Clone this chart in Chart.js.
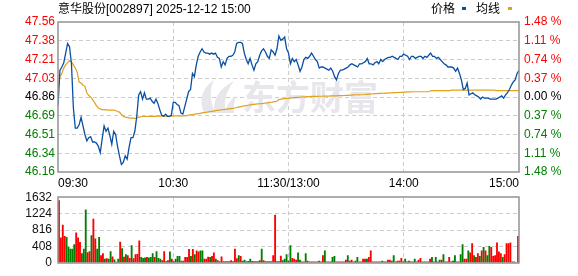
<!DOCTYPE html>
<html><head><meta charset="utf-8">
<script src="https://cdn.jsdelivr.net/npm/chart.js@4"></script>
<style>
html,body{margin:0;padding:0;background:#fff;width:578px;height:276px;overflow:hidden;}
#wrap{position:relative;width:578px;height:276px;}
canvas{position:absolute;left:0;}
#pc{top:0;}
#vc{top:184px;}
.t{position:absolute;font:12px "Liberation Sans","Noto Sans CJK SC",sans-serif;color:#000;white-space:nowrap;line-height:14px;}
.mk{position:absolute;width:4px;height:3px;}
</style></head>
<body><div id="wrap">
<canvas id="pc" width="578" height="192"></canvas>
<canvas id="vc" width="578" height="92"></canvas>
<div class="t" style="left:58px;top:2px;">意华股份[002897] 2025-12-12 15:00</div>
<div class="t" style="left:431px;top:2px;">价格</div>
<div class="mk" style="left:462px;top:7px;background:#0a4fa3;"></div>
<div class="t" style="left:476px;top:2px;">均线</div>
<div class="mk" style="left:508px;top:7px;background:#e0a11c;"></div>
</div>
<script>
const timeLabels = ["09:30","10:30","11:30/13:00","14:00","15:00"];
const timeIndex = [0,60,120,180,240];
const priceLabels = ["46.16","46.34","46.51","46.69","46.86","47.03","47.21","47.38","47.56"];
const pctLabels = ["1.48 %","1.11 %","0.74 %","0.37 %","0.00 %","0.37 %","0.74 %","1.11 %","1.48 %"];
const volLabels = ["0","408","816","1224","1632"];
const priceMin = 46.16, priceMax = 47.56, volMax = 1632;

const price = [
46.78,47.11,47.14,47.18,47.27,47.36,47.33,47.17,46.76,46.57,
46.57,46.60,46.67,46.59,46.51,46.45,46.48,46.49,46.44,46.44,
46.43,46.40,46.34,46.47,46.59,46.54,46.57,46.50,46.42,46.54,
46.51,46.40,46.31,46.23,46.25,46.31,46.28,46.39,46.48,46.48,
46.54,46.68,46.88,46.91,46.84,46.90,46.84,46.84,46.85,46.82,
46.80,46.84,46.80,46.74,46.69,46.68,46.70,46.68,46.68,46.69,
46.81,46.81,46.79,46.78,46.71,46.70,46.77,46.84,46.91,46.93,
47.08,47.05,47.16,47.24,47.28,47.31,47.28,47.27,47.27,47.26,
47.27,47.26,47.27,47.23,47.22,47.14,47.19,47.16,47.22,47.24,
47.24,47.25,47.28,47.36,47.37,47.37,47.36,47.27,47.21,47.17,
47.22,47.16,47.11,47.17,47.19,47.25,47.29,47.31,47.28,47.24,
47.22,47.30,47.28,47.25,47.31,47.43,47.39,47.40,47.42,47.31,
47.27,47.17,47.22,47.19,47.21,47.16,47.10,47.14,47.21,47.23,
47.22,47.24,47.27,47.24,47.21,47.19,47.13,47.14,47.14,47.13,
47.12,47.11,47.13,47.10,47.05,47.02,47.08,47.11,47.11,47.12,
47.13,47.14,47.16,47.17,47.16,47.15,47.14,47.17,47.17,47.18,
47.19,47.22,47.17,47.17,47.16,47.18,47.19,47.17,47.21,47.19,
47.21,47.22,47.23,47.23,47.24,47.23,47.22,47.21,47.24,47.24,
47.26,47.25,47.24,47.21,47.24,47.24,47.22,47.23,47.24,47.24,
47.22,47.24,47.23,47.25,47.27,47.24,47.24,47.22,47.23,47.21,
47.19,47.17,47.16,47.14,47.14,47.14,47.13,47.10,47.13,47.08,
47.02,46.93,46.94,46.99,46.88,46.89,46.90,46.88,46.87,46.86,
46.84,46.86,46.85,46.85,46.85,46.84,46.84,46.84,46.84,46.85,
46.86,46.87,46.85,46.88,46.90,46.93,46.97,47.00,47.02,47.08,
47.11];

const avgPrice = [
46.94,47.05,47.08,47.13,47.16,47.18,47.20,47.19,47.16,47.13,
47.09,47.00,46.99,46.97,46.96,46.90,46.873,46.86,46.835,46.81,
46.78,46.758,46.749,46.743,46.743,46.740,46.737,46.737,46.737,46.737,
46.734,46.725,46.719,46.697,46.681,46.672,46.669,46.666,46.663,46.663,
46.660,46.663,46.672,46.675,46.678,46.678,46.678,46.679,46.679,46.680,
46.680,46.680,46.681,46.681,46.681,46.681,46.681,46.681,46.682,46.682,
46.683,46.683,46.684,46.684,46.684,46.684,46.684,46.687,46.690,46.693,
46.696,46.699,46.702,46.705,46.708,46.711,46.714,46.717,46.720,46.723,
46.726,46.729,46.732,46.735,46.738,46.741,46.743,46.745,46.747,46.749,
46.751,46.753,46.757,46.762,46.766,46.770,46.774,46.777,46.780,46.783,
46.786,46.789,46.791,46.793,46.795,46.797,46.799,46.801,46.804,46.806,
46.809,46.811,46.814,46.817,46.820,46.836,46.840,46.843,46.845,46.846,
46.848,46.852,46.853,46.855,46.856,46.857,46.858,46.860,46.861,46.862,
46.863,46.864,46.865,46.865,46.866,46.866,46.867,46.867,46.868,46.868,
46.869,46.869,46.870,46.870,46.871,46.871,46.872,46.872,46.873,46.874,
46.875,46.876,46.877,46.878,46.879,46.879,46.880,46.880,46.881,46.881,
46.882,46.884,46.886,46.888,46.890,46.891,46.892,46.893,46.894,46.895,
46.896,46.897,46.897,46.898,46.899,46.900,46.901,46.902,46.903,46.904,
46.905,46.906,46.907,46.908,46.908,46.909,46.909,46.909,46.909,46.909,
46.909,46.909,46.909,46.909,46.918,46.919,46.919,46.919,46.919,46.919,
46.919,46.919,46.919,46.919,46.919,46.925,46.925,46.925,46.925,46.925,
46.925,46.925,46.925,46.925,46.925,46.925,46.925,46.925,46.925,46.925,
46.925,46.925,46.925,46.925,46.925,46.925,46.925,46.925,46.919,46.919,
46.919,46.919,46.919,46.919,46.919,46.919,46.919,46.919,46.919,46.919,
46.921];

const volume = [
1550,620,937,658,635,393,340,340,454,748,
620,507,227,340,1315,257,280,680,1089,597,
340,635,181,227,91,106,91,280,151,76,
15,91,514,355,144,204,181,113,431,106,
204,212,544,136,113,121,136,121,136,227,
136,280,113,91,53,280,30,53,272,91,
30,91,159,159,45,45,136,136,333,159,
333,204,295,272,295,295,91,91,144,136,
159,249,91,53,30,151,30,30,30,30,
53,30,340,106,181,159,45,68,30,38,
91,38,30,30,30,53,340,53,30,30,
30,30,181,1187,30,30,166,53,91,204,
45,431,113,91,68,249,68,23,23,227,
45,23,23,23,23,23,45,23,181,295,
23,23,23,136,159,23,23,23,23,23,
68,181,45,68,23,45,136,23,23,91,
91,91,136,295,23,23,23,23,23,45,
23,23,68,68,45,181,23,45,45,113,
23,91,23,45,23,23,91,23,68,113,
23,23,23,23,91,136,23,136,23,68,
68,204,23,23,136,23,45,181,23,23,
204,454,91,91,295,249,476,181,136,227,
159,295,386,295,181,408,386,159,181,499,
272,227,136,204,476,476,499,23,23,0,
658];

// u = up (red), d = down (green)
const volDir = (
"uuuuddddd u"+"uudddu udu u"+"dduudu dd ud"+"udududuudu"+"uuuddd uddd"+
"udddu udud u"+"dddd udu uud"+"uduudduuud"+"uududuuuud"+"uuuudu dddd"+
"duuddudu dd"+"dduudduddd"+"dduuuddu ud"+"uuddudu dud"+"uudddu uuuu"+
"udu udddudu"+"udu uuduudd"+"udu uddduuu"+"ddddu udu uu"+"dddu udu dud"+
"uddduudd ud"+"dduudu udu u"+"dudu dduuuu"+"uuduuuuud u"+"u").replace(/ /g,"").split("");

const RED = '#ff0000', GREEN = '#008000', BLACK = '#000000';
const tickColor = i => i < 4 ? GREEN : (i === 4 ? BLACK : RED);
const gridCol = '#cccccc';
const font12 = {size:12, family:'"Liberation Sans", Arial, sans-serif'};

const frame = {
  id:'frame',
  afterDraw(c){
    const {ctx, chartArea:a} = c;
    ctx.save();
    ctx.strokeStyle = '#939393';
    ctx.lineWidth = 1.5;
    ctx.strokeRect(Math.round(a.left), Math.round(a.top), Math.round(a.right - a.left), Math.round(a.bottom - a.top));
    ctx.restore();
  }
};

const watermark = {
  id:'watermark',
  beforeDatasetsDraw(c){
    const ctx = c.ctx;
    ctx.save();
    ctx.fillStyle = '#e6e6eb';
    ctx.beginPath();
    ctx.moveTo(204,113);
    ctx.quadraticCurveTo(196,92,214,80);
    ctx.quadraticCurveTo(207,94,215,113);
    ctx.closePath();
    ctx.fill();
    ctx.beginPath();
    ctx.moveTo(214,113);
    ctx.quadraticCurveTo(212,92,234,81);
    ctx.quadraticCurveTo(222,96,226,113);
    ctx.closePath();
    ctx.fill();
    ctx.beginPath();
    ctx.moveTo(224,113);
    ctx.quadraticCurveTo(229,100,236,96);
    ctx.quadraticCurveTo(233,106,234,113);
    ctx.closePath();
    ctx.fill();
    ctx.font = 'bold 34px "Noto Sans CJK SC", sans-serif';
    ctx.textBaseline = 'middle';
    ctx.fillText('东方财富', 242, 97);
    ctx.restore();
  }
};

new Chart(document.getElementById('pc'), {
  type:'line',
  data:{datasets:[
    {label:'价格', data: price.map((v,i)=>({x:i,y:v})), borderColor:'#0a4fa3', borderWidth:1.3, pointRadius:0, tension:0, order:1},
    {label:'均线', data: avgPrice.map((v,i)=>({x:i,y:v})), borderColor:'#e0a11c', borderWidth:1.2, pointRadius:0, tension:0, order:2}
  ]},
  options:{
    responsive:false, animation:false, events:[],
    layout:{padding:{top:22,left:0,right:0,bottom:0}},
    plugins:{legend:{display:false}, tooltip:{enabled:false}},
    scales:{
      x:{type:'linear', min:0, max:240, offset:false,
        afterBuildTicks:s=>{ s.ticks = timeIndex.map(v=>({value:v})); },
        afterFit:s=>{ s.height = 20; },
        ticks:{autoSkip:false, maxRotation:0, align:'inner', padding:4, color:'#000', font:font12,
          callback:(v,i)=>timeLabels[i]},
        grid:{drawTicks:false, offset:false, lineWidth:1, color:ctx=> (ctx.index===0||ctx.index===4)?'rgba(0,0,0,0)':gridCol},
        border:{display:false, dash:[4,3]}
      },
      y:{position:'left', min:priceMin, max:priceMax,
        afterBuildTicks:s=>{ s.ticks = priceLabels.map((_,i)=>({value: priceMin + i*(priceMax-priceMin)/8})); },
        afterFit:s=>{ s.width = 58; },
        ticks:{padding:3, font:font12, color:ctx=>tickColor(ctx.index), callback:(v,i)=>priceLabels[i]},
        grid:{drawTicks:false, lineWidth:1, color:ctx=> (ctx.index===0||ctx.index===8)?'rgba(0,0,0,0)':gridCol},
        border:{display:false, dash:[4,3]}
      },
      y2:{position:'right', min:priceMin, max:priceMax,
        afterBuildTicks:s=>{ s.ticks = pctLabels.map((_,i)=>({value: priceMin + i*(priceMax-priceMin)/8})); },
        afterFit:s=>{ s.width = 59; },
        ticks:{padding:5, font:font12, color:ctx=>tickColor(ctx.index), callback:(v,i)=>pctLabels[i]},
        grid:{display:false, drawTicks:false},
        border:{display:false}
      }
    }
  },
  plugins:[watermark, frame]
});

new Chart(document.getElementById('vc'), {
  type:'bar',
  data:{datasets:[{
    data: volume.map((v,i)=>({x:i,y:v})),
    backgroundColor: volDir.map(d=> d==='u'?RED:GREEN),
    barThickness:1.2, borderWidth:0, grouped:false
  }]},
  options:{
    responsive:false, animation:false, events:[],
    layout:{padding:{top:12,left:0,right:59,bottom:6}},
    plugins:{legend:{display:false}, tooltip:{enabled:false}},
    scales:{
      x:{type:'linear', min:-0.5, max:240.5, offset:false,
        afterBuildTicks:s=>{ s.ticks = timeIndex.slice(1,4).map(v=>({value:v})); },
        afterFit:s=>{ s.height = 0; },
        ticks:{display:false},
        grid:{drawTicks:false, offset:false, lineWidth:1, color:gridCol},
        border:{display:false, dash:[4,3]}
      },
      y:{min:0, max:volMax,
        afterBuildTicks:s=>{ s.ticks = volLabels.map((_,i)=>({value: i*volMax/4})); },
        afterFit:s=>{ s.width = 58; },
        ticks:{padding:6, font:font12, color:'#111', callback:(v,i)=>volLabels[i]},
        grid:{drawTicks:false, lineWidth:1, color:ctx=> (ctx.index===0||ctx.index===4)?'rgba(0,0,0,0)':gridCol},
        border:{display:false, dash:[4,3]}
      }
    }
  },
  plugins:[frame]
});
</script>
</body></html>
